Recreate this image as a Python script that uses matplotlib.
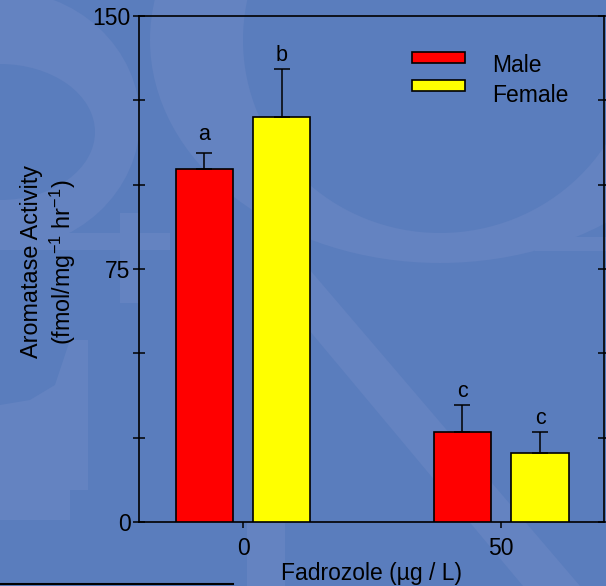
import numpy as np
import matplotlib.pyplot as plt
from matplotlib.patches import Rectangle, Ellipse, Polygon
from matplotlib.lines import Line2D
from matplotlib.transforms import Affine2D

plt.rcParams['font.family'] = ['Liberation Sans', 'DejaVu Sans']
plt.rcParams['mathtext.default'] = 'regular'

# aromatase activity by fadrozole dose
doses = ['0', '50']
male = [104.6, 26.8]
male_err = [4.8, 7.9]
female = [120.1, 20.5]
female_err = [14.2, 6.1]
male_letters = ['a', 'c']
female_letters = ['b', 'c']

bg = '#5a7dbd'
pale = '#6483c1'
red = '#ff0000'
yellow = '#ffff00'

W, H = 606, 586
fig = plt.figure(figsize=(W / 100, H / 100), dpi=100, facecolor=bg)

# backdrop letters, drawn in pixel units (y downwards)
px = Affine2D().scale(1 / W, -1 / H).translate(0, 1) + fig.transFigure
backdrop = [
    Ellipse((440, 40), 580, 446, color=pale),
    Ellipse((440, 40), 394, 386, color=bg),
    Rectangle((535, 237), 71, 14, color=pale),
    Polygon([(253, 263), (304, 263), (580, 586), (523, 586)], color=pale),
    Ellipse((0, 120), 280, 260, color=pale),
    Ellipse((0, 132), 190, 136, color=bg),
    Rectangle((0, 233), 170, 17, color=pale),
    Rectangle((120, 213), 19, 90, color=pale),
    Polygon([(0, 405), (30, 400), (55, 385), (70, 340), (88, 340), (88, 490),
             (70, 490), (70, 520), (0, 520)], color=pale),
    Rectangle((247, 523), 38, 63, color=pale),
]
for p in backdrop:
    p.set_transform(px)
    p.set_zorder(-5)
    p.set_linewidth(0)
    fig.add_artist(p)

ax = fig.add_axes([0.2294, 0.1092, 0.7673, 0.8635])
ax.set_facecolor('none')

x = np.arange(len(doses))
off, w = 0.151, 0.221
ekw = dict(ecolor='black', elinewidth=1.1, capsize=6, capthick=1.1)
ax.bar(x - off, male, w, color=red, edgecolor='black', linewidth=1.2,
       yerr=[np.zeros(2), male_err], error_kw=ekw, zorder=3)
ax.bar(x + off, female, w, color=yellow, edgecolor='black', linewidth=1.2,
       yerr=[np.zeros(2), female_err], error_kw=ekw, zorder=3)

# significance letters above the error bars
gaps_m = [9, 6]
gaps_f = [6, 6]
for xi, v, e, t, g in zip(x - off, male, male_err, male_letters, gaps_m):
    ax.annotate(t, (xi, v + e), xytext=(0, g), textcoords='offset points',
                ha='center', va='baseline', fontsize=15.5)
for xi, v, e, t, g in zip(x + off, female, female_err, female_letters, gaps_f):
    ax.annotate(t, (xi, v + e), xytext=(0, g), textcoords='offset points',
                ha='center', va='baseline', fontsize=15.5)

ax.set_xlim(-0.403, 1.399)
ax.set_ylim(0, 150)
ax.set_xticks(x)
ax.set_xticklabels(doses)
ax.set_yticks([0, 75, 150])
ax.set_yticks([25, 50, 100, 125], minor=True)
ax.tick_params(axis='y', which='both', direction='inout', length=8, width=1.1,
               labelsize=16.5, pad=2, right=True)
ax.tick_params(axis='x', direction='out', length=4, width=1.1, labelsize=16.5, pad=7)
for s in ax.spines.values():
    s.set_linewidth(1.2)

ax.set_xlabel('Fadrozole (µg / L)', fontsize=16.5, labelpad=1)
ax.set_ylabel('Aromatase Activity\n(fmol/mg$^{-1}$ hr$^{-1}$)', fontsize=16.8)
ax.yaxis.set_label_coords(-0.131, 0.514)

# legend keys
ax.add_patch(Rectangle((0.587, 0.907), 0.114, 0.0217, transform=ax.transAxes,
                       facecolor=red, edgecolor='black', linewidth=1.2, clip_on=False))
ax.add_patch(Rectangle((0.587, 0.852), 0.114, 0.0217, transform=ax.transAxes,
                       facecolor=yellow, edgecolor='black', linewidth=1.2, clip_on=False))
ax.text(0.759, 0.890, 'Male', transform=ax.transAxes, fontsize=16.5, va='baseline')
ax.text(0.759, 0.831, 'Female', transform=ax.transAxes, fontsize=16.5, va='baseline')

fig.add_artist(Line2D([0, 0.385], [0.004, 0.004], color='black', linewidth=1.5))

fig.savefig('out.png', dpi=100, facecolor=bg)
